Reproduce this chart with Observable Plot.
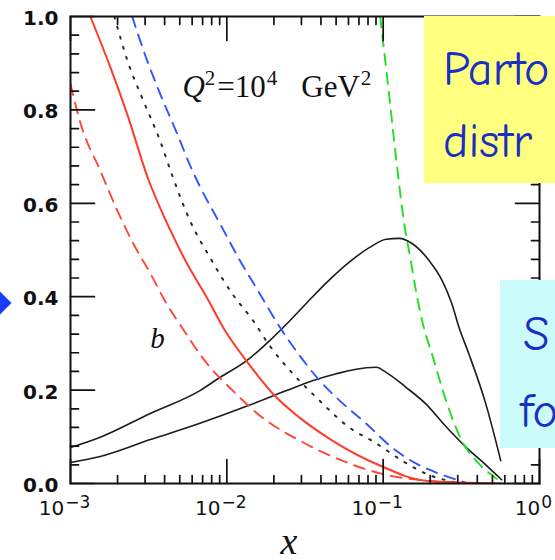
<!DOCTYPE html>
<html>
<head>
<meta charset="utf-8">
<script src="https://cdn.jsdelivr.net/npm/d3@7"></script>
<script src="https://cdn.jsdelivr.net/npm/@observablehq/plot@0.6"></script>
<style>
  html, body { margin: 0; padding: 0; background: #fff; }
  #chart { position: relative; width: 555px; height: 560px; overflow: hidden; }
  #chart > svg { position: absolute; left: 0; top: 0; }
</style>
</head>
<body>
<div id="chart"></div>
<script>
// Parton momentum densities x·f(x, Q²) at Q² = 10⁴ GeV², plotted against x (log scale)

// red, dashed
const redDashX = [0.00100, 0.00116, 0.00155, 0.00199, 0.00252, 0.00324, 0.00415, 0.00516, 0.00746, 0.0109, 0.0169, 0.0292, 0.0607, 0.0971, 0.188, 0.407];
const redDashY = [0.855, 0.771, 0.670, 0.585, 0.514, 0.450, 0.383, 0.334, 0.257, 0.199, 0.141, 0.092, 0.043, 0.021, 0.006, 0.0];

// red, solid
const redSolidX = [0.00134, 0.00180, 0.00231, 0.00314, 0.00415, 0.00556, 0.00746, 0.00971, 0.0136, 0.0208, 0.0292, 0.0473, 0.0944, 0.188, 0.573];
const redSolidY = [1.0, 0.891, 0.790, 0.652, 0.557, 0.471, 0.398, 0.328, 0.259, 0.184, 0.141, 0.092, 0.039, 0.006, 0.0];

// black, dotted
const dotX = [0.00191, 0.00231, 0.00292, 0.00374, 0.00447, 0.00581, 0.00780, 0.0109, 0.0147, 0.0188, 0.0263, 0.0374, 0.0607, 0.0902, 0.132, 0.188, 0.292];
const dotY = [1.0, 0.906, 0.820, 0.734, 0.660, 0.563, 0.484, 0.405, 0.349, 0.295, 0.236, 0.184, 0.120, 0.086, 0.049, 0.021, 0.002];

// blue, dashed
const blueX = [0.00248, 0.00309, 0.00374, 0.00481, 0.00598, 0.00673, 0.00902, 0.0121, 0.0162, 0.0218, 0.0292, 0.0391, 0.0525, 0.0780, 0.114, 0.162, 0.228, 0.338];
const blueY = [1.0, 0.906, 0.835, 0.749, 0.672, 0.636, 0.557, 0.478, 0.407, 0.335, 0.274, 0.221, 0.178, 0.128, 0.077, 0.043, 0.021, 0.002];

// green, dashed
const greenX = [0.0957, 0.108, 0.121, 0.136, 0.151, 0.162, 0.182, 0.205, 0.252, 0.318, 0.408, 0.548, 0.573];
const greenY = [1.0, 0.846, 0.696, 0.559, 0.473, 0.413, 0.334, 0.278, 0.178, 0.092, 0.043, 0.006, 0.0];

// black, solid (upper)
const upperX = [0.00100, 0.00155, 0.00324, 0.00673, 0.00902, 0.0134, 0.0188, 0.0252, 0.0338, 0.0453, 0.0607, 0.0815, 0.1045, 0.1265, 0.153, 0.196, 0.238, 0.275, 0.305, 0.353, 0.453, 0.565];
const upperY = [0.077, 0.099, 0.150, 0.199, 0.227, 0.263, 0.306, 0.348, 0.393, 0.436, 0.474, 0.505, 0.523, 0.525, 0.514, 0.478, 0.435, 0.385, 0.335, 0.278, 0.171, 0.049];

// black, solid (lower)
const lowerX = [0.00100, 0.00155, 0.00324, 0.00673, 0.0140, 0.0241, 0.0353, 0.0502, 0.0780, 0.0902, 0.1045, 0.140, 0.188, 0.252, 0.338, 0.453, 0.573];
const lowerY = [0.045, 0.058, 0.094, 0.129, 0.168, 0.199, 0.220, 0.235, 0.248, 0.249, 0.238, 0.206, 0.170, 0.122, 0.078, 0.040, 0.008];

// axis ticks
const xMajor = [1e-3, 1e-2, 1e-1, 1];
const xMinorMultiples = [2, 3, 4, 5, 6, 7, 8, 9];
const yMajor = [0, 0.2, 0.4, 0.6, 0.8, 1.0];
const yMinorStep = 0.04;

// in-plot labels
const qLabel = {text: "Q^2=10^4 GeV^2", x: 0.0052, y: 0.827};
const bLabel = {text: "b", x: 0.00324, y: 0.291};

// side boxes
const boxLines = {yellow: ["Parto", "distr"], cyan: ["S", "fo"]};

const W = 555, H = 560, ML = 70, MR = 16, MT = 16, MB = 77;
const xDomain = [1e-3, 1], yDomain = [0, 1];

const xMinor = xMajor.slice(0, -1).flatMap(d => xMinorMultiples.map(m => m * d));
const yMinor = d3.range(1, 25).filter(i => i % 5 !== 0).map(i => +(i * yMinorStep).toFixed(2));

// pixel tick lengths expressed in data units, so ticks point inward on every side
const xPix = d3.scaleLog(xDomain, [ML, W - MR]);
const yPix = d3.scaleLinear(yDomain, [H - MB, MT]);
const xFromLeft = len => xPix.invert(ML + len);
const xFromRight = len => xPix.invert(W - MR - len);
const yFromBottom = len => yPix.invert(H - MB - len);
const yFromTop = len => yPix.invert(MT + len);

// each tick is a two-point segment, grouped by id
const tickSegments = [];
let tickId = 0;
const seg = (x1, y1, x2, y2) => {
  tickSegments.push({id: tickId, x: x1, y: y1}, {id: tickId, x: x2, y: y2});
  tickId++;
};
for (const [vals, len] of [[yMajor, 24], [yMinor, 8]]) {
  for (const v of vals) {
    seg(xDomain[0], v, xFromLeft(len), v);
    seg(xFromRight(len), v, xDomain[1], v);
  }
}
for (const [vals, len] of [[xMajor, 24], [xMinor, 8]]) {
  for (const v of vals) {
    seg(v, yDomain[0], v, yFromBottom(len));
    seg(v, yFromTop(len), v, yDomain[1]);
  }
}

const curves = [
  {x: upperX, y: upperY, stroke: "#1c1c1c", width: 1.6, dash: null},
  {x: lowerX, y: lowerY, stroke: "#1c1c1c", width: 1.6, dash: null},
  {x: dotX, y: dotY, stroke: "#2a2a2a", width: 2, dash: "2,8.5"},
  {x: blueX, y: blueY, stroke: "#3552ff", width: 1.9, dash: "11,8"},
  {x: greenX, y: greenY, stroke: "#1fe01f", width: 1.9, dash: "11,8"},
  {x: redDashX, y: redDashY, stroke: "#ff4636", width: 1.9, dash: "11,8"},
  {x: redSolidX, y: redSolidY, stroke: "#ff3b2b", width: 2, dash: null}
];

const lineMarks = curves.map(c =>
  Plot.line(c.x.map((x, i) => ({x, y: c.y[i]})), {
    x: "x", y: "y", stroke: c.stroke, strokeWidth: c.width,
    strokeDasharray: c.dash, curve: "monotone-x", clip: true
  })
);

const tickCol = "#111";
const sup = e => (e < 0 ? "\u2212" + (-e) : String(e));

const plot = Plot.plot({
  width: W, height: H,
  marginLeft: ML, marginRight: MR, marginTop: MT, marginBottom: MB,
  style: {background: "transparent", fontFamily: "DejaVu Sans", color: "#111"},
  x: {type: "log", domain: xDomain, label: null},
  y: {domain: yDomain, label: null},
  marks: [
    ...lineMarks,
    Plot.line(tickSegments, {x: "x", y: "y", z: "id", stroke: tickCol, strokeWidth: 1.7}),
    Plot.frame({stroke: tickCol, strokeWidth: 2}),
    Plot.axisY(yMajor, {
      anchor: "left", tickSize: 0, tickPadding: 12, dy: 2,
      tickFormat: d => d.toFixed(1),
      fontSize: 20, fontWeight: "bold", fontFamily: "DejaVu Sans", label: null
    }),
    Plot.axisX(xMajor, {
      anchor: "bottom", tickSize: 0, tickPadding: 17, dx: -6,
      tickFormat: d => "10^" + sup(Math.round(Math.log10(d))),
      fontSize: 20, fontFamily: "DejaVu Sans", label: null
    }),
    Plot.text([qLabel], {
      x: "x", y: "y", text: "text", textAnchor: "start", lineAnchor: "bottom",
      fontSize: 31, fontFamily: "Liberation Serif"
    }),
    Plot.text([bLabel], {
      x: "x", y: "y", text: "text", textAnchor: "start", lineAnchor: "bottom",
      fontSize: 29, fontStyle: "italic", fontFamily: "Liberation Serif"
    }),
    Plot.text(["x"], {
      text: d => d, frameAnchor: "bottom", dx: -16, dy: 70,
      fontSize: 38, fontStyle: "italic", fontFamily: "Liberation Serif"
    })
  ]
});

const svg = d3.select(plot);

// exponents as raised, smaller text
svg.selectAll('g[aria-label="x-axis tick label"] text').each(function() {
  const [base, exp] = this.textContent.split("^");
  const t = d3.select(this).text(null);
  t.append("tspan").text(base);
  t.append("tspan").attr("dx", 1).attr("dy", -7).attr("font-size", 17).text(exp);
});

// Q² = 10⁴ GeV²
svg.selectAll("text").filter(function() { return this.textContent === qLabel.text; }).each(function() {
  const t = d3.select(this).text(null);
  const rise = 12;
  t.append("tspan").attr("font-style", "italic").text("Q");
  t.append("tspan").attr("dy", -rise).attr("font-size", 21).text("2");
  t.append("tspan").attr("dy", rise).attr("dx", 2).text("=10");
  t.append("tspan").attr("dy", -rise).attr("font-size", 21).attr("dx", 1).text("4");
  t.append("tspan").attr("dy", rise).attr("dx", 24).text("GeV");
  t.append("tspan").attr("dy", -rise).attr("font-size", 21).attr("dx", 1).text("2");
});

const chart = d3.select("#chart");
chart.node().appendChild(plot);

// side notes layered over the plot
const over = chart.append("svg")
  .attr("width", W).attr("height", H)
  .style("position", "absolute").style("left", 0).style("top", 0);

const noteFont = "'Comic Sans MS', 'Comic Neue', 'DejaVu Sans', sans-serif";
const noteColor = "#1a30c2";

over.append("polygon")
  .attr("points", "0,291.5 11.5,303 0,314.5 -11.5,303")
  .attr("fill", "#1a3cff");

over.append("rect").attr("x", 424).attr("y", 16).attr("width", 131).attr("height", 167).attr("fill", "#ffff80");
over.append("text").attr("x", 443).attr("y", 85).text(boxLines.yellow[0]);
over.append("text").attr("x", 443).attr("y", 157).text(boxLines.yellow[1]);

over.append("rect").attr("x", 500).attr("y", 280).attr("width", 55).attr("height", 168).attr("fill", "#ccfbfc");
over.append("text").attr("x", 523).attr("y", 350).text(boxLines.cyan[0]);
over.append("text").attr("x", 520).attr("y", 427).text(boxLines.cyan[1]);

over.selectAll("text")
  .attr("font-family", noteFont)
  .attr("font-size", 48)
  .attr("fill", noteColor);
</script>
</body>
</html>
